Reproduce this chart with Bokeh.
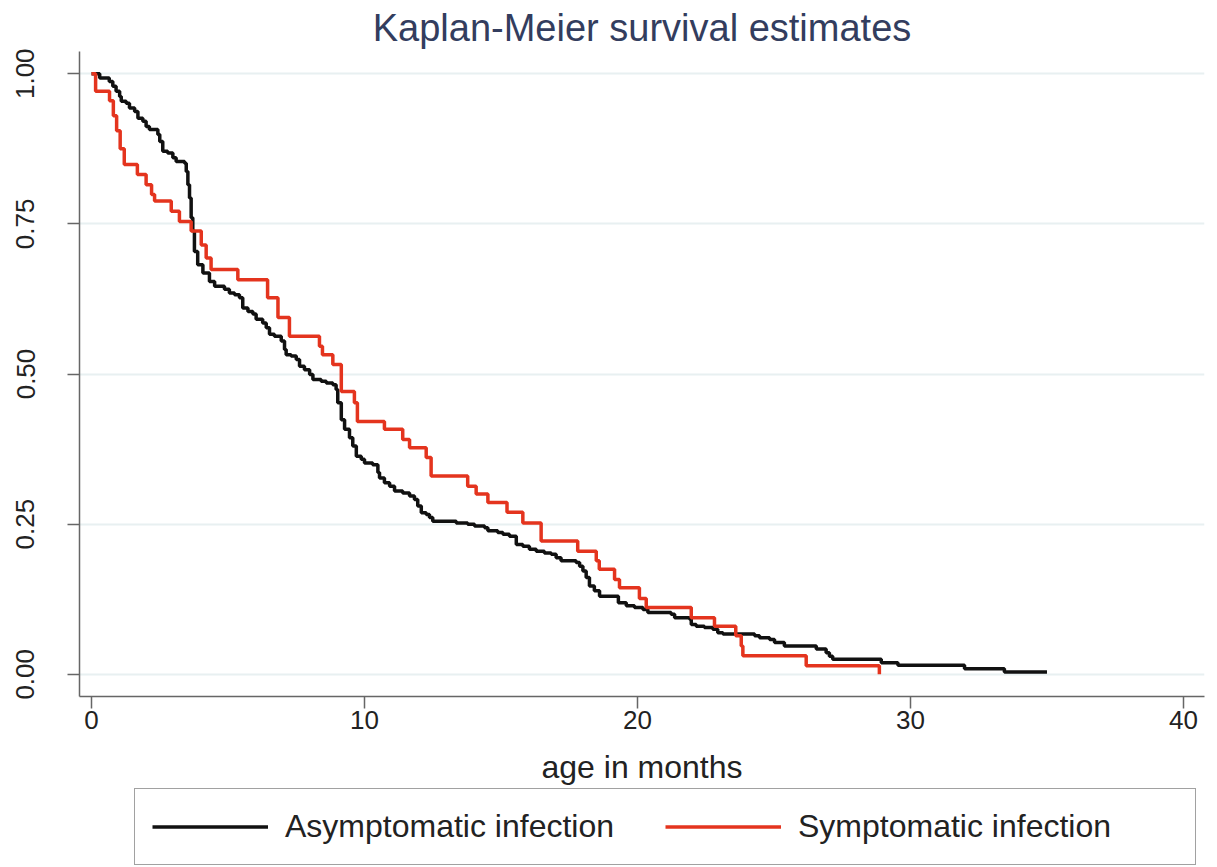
from bokeh.plotting import figure
from bokeh.layouts import column
from bokeh.models import Legend, LegendItem, FixedTicker, NumeralTickFormatter, Range1d, Title
from bokeh.embed import file_html
from bokeh.resources import INLINE

# Asymptomatic infection (time in months, survival after step)
asym_t = [0.0, 0.3, 0.65, 0.78, 0.90, 1.03, 1.09, 1.27, 1.39, 1.58, 1.70, 1.88, 2.0, 2.12, 2.43, 2.50,
          2.61, 2.79, 2.98, 3.10, 3.41, 3.47, 3.53, 3.59, 3.65, 3.71, 3.77, 3.89, 4.08, 4.32, 4.51, 4.87,
          5.05, 5.24, 5.42, 5.54, 5.73, 5.91, 6.03, 6.27, 6.40, 6.52, 6.70, 6.95, 7.07, 7.13, 7.31, 7.50,
          7.62, 7.80, 7.99, 8.11, 8.41, 8.60, 8.84, 8.96, 9.02, 9.15, 9.27, 9.45, 9.57, 9.70, 9.88, 10.0,
          10.30, 10.49, 10.55, 10.73, 10.92, 11.10, 11.40, 11.65, 11.83, 11.95, 12.08, 12.26, 12.38, 12.50,
          13.36, 13.78, 14.03, 14.40, 14.52, 14.88, 15.07, 15.31, 15.56, 15.80, 16.04, 16.29, 16.59, 16.84,
          17.02, 17.20, 17.75, 17.88, 18.0, 18.12, 18.24, 18.42, 18.61, 19.30, 19.59, 19.89, 20.20, 20.38,
          21.23, 21.36, 21.90, 21.97, 22.15, 22.45, 22.76, 22.94, 23.13, 24.29, 24.47, 24.84, 25.02, 25.38,
          26.55, 26.91, 27.03, 27.15, 28.93, 29.54, 31.98, 33.44, 35.0]
asym_s = [1.0, 0.993, 0.987, 0.979, 0.971, 0.962, 0.954, 0.951, 0.943, 0.937, 0.926, 0.921, 0.912, 0.907, 0.899, 0.887,
          0.871, 0.868, 0.860, 0.854, 0.851, 0.837, 0.815, 0.793, 0.760, 0.738, 0.704, 0.682, 0.668, 0.654, 0.646, 0.641,
          0.635, 0.632, 0.627, 0.610, 0.604, 0.600, 0.591, 0.585, 0.577, 0.566, 0.563, 0.555, 0.541, 0.532, 0.530, 0.524,
          0.513, 0.507, 0.499, 0.491, 0.488, 0.485, 0.482, 0.474, 0.452, 0.424, 0.408, 0.394, 0.380, 0.363, 0.358, 0.352,
          0.349, 0.336, 0.327, 0.319, 0.313, 0.305, 0.302, 0.297, 0.291, 0.280, 0.269, 0.266, 0.261, 0.255,
          0.252, 0.250, 0.247, 0.244, 0.239, 0.236, 0.233, 0.230, 0.216, 0.213, 0.208, 0.205, 0.202, 0.200,
          0.194, 0.189, 0.186, 0.180, 0.172, 0.161, 0.147, 0.139, 0.130, 0.119, 0.114, 0.111, 0.108, 0.103,
          0.100, 0.094, 0.092, 0.083, 0.080, 0.078, 0.075, 0.069, 0.067, 0.064, 0.061, 0.058, 0.053, 0.047,
          0.042, 0.036, 0.030, 0.025, 0.019, 0.015, 0.0094, 0.004, 0.004]

# Symptomatic infection
sym_t = [0.0, 0.15, 0.66, 0.80, 0.92, 1.05, 1.20, 1.68, 2.0, 2.2, 2.31, 2.92, 3.22, 3.65, 4.02, 4.2, 4.38,
         5.36, 6.45, 6.83, 7.25, 8.35, 8.46, 8.84, 9.15, 9.63, 9.74, 10.73, 11.40, 11.65, 12.26, 12.44,
         13.78, 14.09, 14.52, 15.22, 15.80, 16.47, 17.81, 18.49, 18.6, 19.16, 19.34, 20.07, 20.32, 21.97,
         22.82, 23.6, 23.8, 23.86, 26.18, 28.86]
sym_s = [1.0, 0.971, 0.955, 0.930, 0.905, 0.875, 0.849, 0.832, 0.815, 0.799, 0.788, 0.771, 0.754, 0.738, 0.715, 0.693, 0.674,
         0.657, 0.627, 0.594, 0.563, 0.546, 0.532, 0.516, 0.471, 0.452, 0.421, 0.408, 0.391, 0.377, 0.361, 0.330,
         0.313, 0.300, 0.286, 0.270, 0.252, 0.222, 0.205, 0.189, 0.175, 0.158, 0.144, 0.126, 0.111, 0.094,
         0.080, 0.064, 0.047, 0.031, 0.014, 0.0]

x_ticks = [0, 10, 20, 30, 40]
y_ticks = [0.0, 0.25, 0.5, 0.75, 1.0]
series_labels = ["Asymptomatic infection", "Symptomatic infection"]
series_colors = ["#111111", "#e4341e"]

FONT = "Liberation Sans"

p = figure(frame_width=1125, frame_height=645, output_backend="svg", toolbar_location=None,
           x_range=Range1d(-0.44, 40.77), y_range=Range1d(-0.037, 1.037),
           min_border_left=79, min_border_right=3, min_border_top=51, min_border_bottom=88)

p.title = Title(text="Kaplan-Meier survival estimates", align="center", text_font=FONT,
                text_font_size="38px", text_font_style="normal", text_color="#333d5e",
                standoff=5)

p.step(asym_t, asym_s, mode="after", line_color=series_colors[0], line_width=3.5)
p.step(sym_t, sym_s, mode="after", line_color=series_colors[1], line_width=3.5)

p.outline_line_color = None
p.background_fill_color = "white"
p.border_fill_color = "white"

p.xgrid.visible = False
p.ygrid.grid_line_color = "#e8f0f1"
p.ygrid.grid_line_width = 2

p.xaxis.ticker = FixedTicker(ticks=x_ticks)
p.yaxis.ticker = FixedTicker(ticks=y_ticks)
p.yaxis.formatter = NumeralTickFormatter(format="0.00")
p.yaxis.major_label_orientation = "vertical"
p.xaxis.axis_label = "age in months"

for ax in (p.xaxis[0], p.yaxis[0]):
    ax.axis_line_color = "#666666"
    ax.axis_line_width = 1.5
    ax.major_tick_line_color = "#666666"
    ax.major_tick_line_width = 1.5
    ax.major_tick_out = 12
    ax.major_tick_in = 0
    ax.minor_tick_line_color = None
    ax.major_label_text_font = FONT
    ax.major_label_text_font_size = "26px"
    ax.major_label_text_color = "#222222"
    ax.axis_label_text_font = FONT
    ax.axis_label_text_font_size = "32px"
    ax.axis_label_text_font_style = "normal"
    ax.axis_label_text_color = "#222222"

p.xaxis.major_label_standoff = 2
p.yaxis.major_label_standoff = 33
p.xaxis.axis_label_standoff = 17

# Legend strip below the chart; its renderers hold the same series but lie outside its view
lp = figure(frame_width=1125, frame_height=79, output_backend="svg", toolbar_location=None,
            x_range=Range1d(-0.44, 40.77), y_range=Range1d(5, 6),
            min_border_left=79, min_border_right=3, min_border_top=0, min_border_bottom=0)
lp.axis.visible = False
lp.grid.visible = False
lp.outline_line_color = None
lp.border_fill_color = "white"
k1 = lp.step(asym_t, asym_s, mode="after", line_color=series_colors[0], line_width=3.5)
k2 = lp.step(sym_t, sym_s, mode="after", line_color=series_colors[1], line_width=3.5)

legend = Legend(items=[LegendItem(label=series_labels[0], renderers=[k1]),
                       LegendItem(label=series_labels[1], renderers=[k2])],
                orientation="horizontal", location=(55, 1))
legend.label_text_font = FONT
legend.label_text_font_size = "32px"
legend.label_text_color = "#222222"
legend.glyph_width = 116
legend.glyph_height = 41
legend.label_height = 41
legend.label_width = 380
legend.label_standoff = 17
legend.spacing = 0
legend.padding = 17
legend.margin = 0
legend.border_line_color = "#444444"
legend.border_line_width = 1.5
legend.background_fill_color = "white"
lp.add_layout(legend, "center")

layout = column(p, lp, spacing=0)
open("out.html", "w").write(file_html(layout, INLINE))
